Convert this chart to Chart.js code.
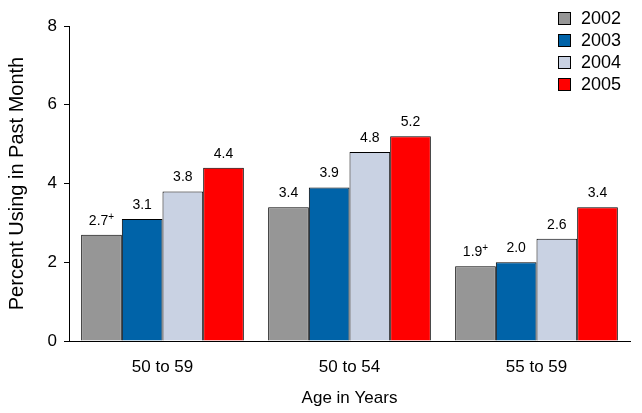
<!DOCTYPE html>
<html><head><meta charset="utf-8">
<script src="https://cdn.jsdelivr.net/npm/chart.js@4/dist/chart.umd.min.js"></script>
<style>html,body{margin:0;padding:0;background:#fff}canvas{display:block}</style>
</head><body>
<canvas id="c" width="642" height="413"></canvas>
<script>
const categories = ["50 to 59", "50 to 54", "55 to 59"];
const years = ["2002", "2003", "2004", "2005"];
const v2002 = [2.7, 3.4, 1.9];
const v2003 = [3.1, 3.9, 2.0];
const v2004 = [3.8, 4.8, 2.6];
const v2005 = [4.4, 5.2, 3.4];
const marks2002 = ["+", "", "+"];
const yTicks = [0, 2, 4, 6, 8];

const colors = ["#969696", "#0063A8", "#C9D2E3", "#FF0000"];
const FONT = "Arial, 'Liberation Sans', sans-serif";
const series = [v2002, v2003, v2004, v2005];
const marks = [marks2002, ["","",""], ["","",""], ["","",""]];

const labelPlugin = {
  id: 'labels',
  afterDatasetsDraw(chart) {
    const ctx = chart.ctx;
    ctx.save();
    chart.data.datasets.forEach((ds, di) => {
      const meta = chart.getDatasetMeta(di);
      meta.data.forEach((bar, i) => {
        const txt = ds.data[i].toFixed(1);
        const mk = marks[di][i];
        ctx.font = "14px " + FONT;
        ctx.fillStyle = "#000";
        ctx.textBaseline = "alphabetic";
        const w = ctx.measureText(txt).width;
        ctx.font = "10px " + FONT;
        const mw = mk ? ctx.measureText(mk).width : 0;
        const x0 = bar.x - (w + mw) / 2;
        const y = bar.y - 10;
        ctx.font = "14px " + FONT;
        ctx.textAlign = "left";
        ctx.fillText(txt, x0, y);
        if (mk) { ctx.font = "10px " + FONT; ctx.fillText(mk, x0 + w, y - 5); }
      });
    });
    // legend
    const lx = 558, ly = 12, step = 22;
    years.forEach((yr, i) => {
      ctx.fillStyle = colors[i];
      ctx.fillRect(lx, ly + i * step, 13, 13);
      ctx.strokeStyle = "#000"; ctx.lineWidth = 1;
      ctx.strokeRect(lx + 0.5, ly + i * step + 0.5, 12, 12);
      ctx.fillStyle = "#000";
      ctx.font = "18px " + FONT;
      ctx.textAlign = "left"; ctx.textBaseline = "middle";
      ctx.fillText(yr, 581, ly + i * step + 7);
    });
    ctx.restore();
  }
};

new Chart(document.getElementById('c'), {
  type: 'bar',
  data: {
    labels: categories,
    datasets: years.map((y, i) => ({
      label: y, data: series[i], backgroundColor: colors[i],
      borderColor: "#000", borderWidth: 1,
      categoryPercentage: 0.87, barPercentage: 1.0
    }))
  },
  options: {
    responsive: false, animation: false,
    layout: { padding: { top: 26, right: 12, left: 0, bottom: 0 } },
    plugins: { legend: { display: false }, tooltip: { enabled: false } },
    scales: {
      x: {
        grid: { display: false, drawTicks: false },
        border: { color: "#000", width: 1 },
        ticks: { color: "#000", font: { family: FONT, size: 17 }, padding: 16 },
        title: { display: true, text: "Age in Years", color: "#000", font: { family: FONT, size: 17 }, padding: { top: 10 } },
        afterFit(s) { s.height = 72; }
      },
      y: {
        min: 0, max: 8,
        afterBuildTicks(s) { s.ticks = yTicks.map(v => ({ value: v })); },
        grid: { display: true, drawOnChartArea: false, drawTicks: true, tickLength: 5, tickColor: "#000" },
        border: { color: "#000", width: 1 },
        ticks: { color: "#000", font: { family: FONT, size: 17 }, padding: 7 },
        title: { display: true, text: "Percent Using in Past Month", color: "#000", font: { family: FONT, size: 20 }, padding: { top: 5, bottom: 0 } },
        afterFit(s) { s.width = 69; }
      }
    }
  },
  plugins: [labelPlugin]
});
</script>
</body></html>
